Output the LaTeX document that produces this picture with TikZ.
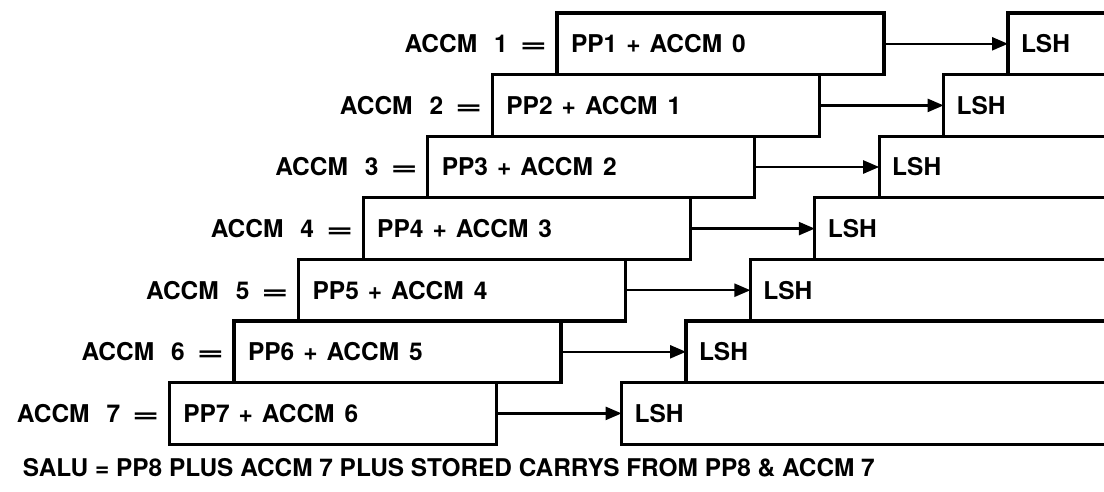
\documentclass[tikz,border=0pt]{standalone}
\usepackage{fontspec}
\setmainfont{TeX Gyre Heros}
\usepackage{graphicx}
\usetikzlibrary{arrows.meta}
\newcommand{\wideeq}{\scalebox{1.9}[1]{=}}
\begin{document}
\begin{tikzpicture}[x=1pt,y=-1pt,
  every node/.style={font=\fontsize{24.5}{28}\selectfont\bfseries, outer sep=0pt},
  accbox/.style={draw, line width=3.3pt, minimum height=61.6pt, text width=299pt,
    inner xsep=14pt, inner ysep=0pt, align=left, anchor=north west},
  lshbox/.style={draw, line width=3.3pt, minimum height=61.6pt, text width=600pt,
    inner xsep=13pt, inner ysep=0pt, align=left, anchor=north west},
  eqlabel/.style={anchor=east, inner sep=0pt, xshift=-10pt},
  arr/.style={line width=2.4pt, -{Triangle[length=16pt,width=13pt]}}
]
\path[use as bounding box] (0,0) rectangle (1104,491);
\clip (0,0) rectangle (1104,491);
\foreach \k/\p in {1/0,2/1,3/2,4/3,5/4,6/5,7/6}{
  \pgfmathsetmacro{\T}{13+(\k-1)*61.6}
  \pgfmathsetmacro{\L}{557-(\k-1)*64.6}
  \pgfmathsetmacro{\S}{1008-(\k-1)*64.4}
  \node[accbox] (box\k) at (\L,\T) {PP\k\hspace{9pt}+\hspace{9pt}ACCM\hspace{10pt}\p};
  \node[lshbox] (lsh\k) at (\S,\T) {LSH};
  \node[eqlabel] (lab\k) at (box\k.west) {ACCM\hspace{17pt}\k\hspace{12pt}\wideeq};
  \draw[arr] (box\k.east) -- (lsh\k.west);
}
\node[anchor=base west, inner sep=0pt, font=\fontsize{24.4}{28}\selectfont\bfseries] (salu) at (23,476)
  {SALU = PP8 PLUS ACCM 7 PLUS STORED CARRYS FROM PP8 \& ACCM 7};
\end{tikzpicture}
\end{document}
